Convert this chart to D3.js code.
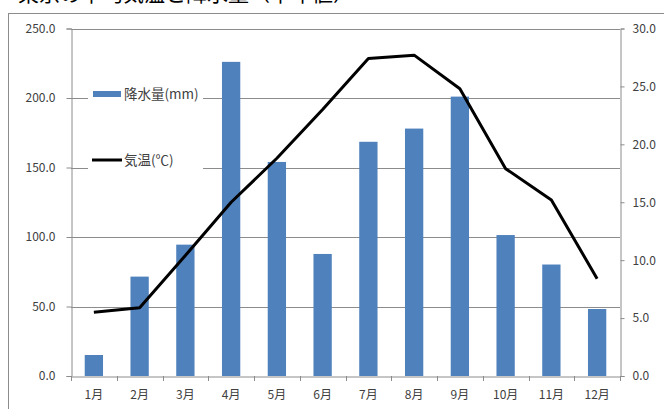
<!DOCTYPE html>
<html>
<head>
<meta charset="utf-8">
<script src="https://d3js.org/d3.v7.min.js"></script>
<style>
  body { margin: 0; background: #fff; }
  svg text { font-family: "Noto Sans CJK JP", "Noto Sans", sans-serif; }
</style>
</head>
<body>
<svg id="chart" width="664" height="409"></svg>
<script>
// month labels, precipitation (mm) and mean temperature (℃)
var months = ["1月", "2月", "3月", "4月", "5月", "6月", "7月", "8月", "9月", "10月", "11月", "12月"];
var rain = [15.1, 71.5, 94.5, 226.0, 154.0, 87.8, 168.5, 178.0, 201.0, 101.4, 80.2, 48.2];
var temp = [5.5, 5.9, 10.4, 15.0, 18.8, 23.0, 27.4, 27.7, 24.8, 17.9, 15.2, 8.4];
var rainTicks = [0, 50, 100, 150, 200, 250];
var tempTicks = [0, 5, 10, 15, 20, 25, 30];
var legendNames = ["降水量(mm)", "気温(℃)"];

var svg = d3.select("#chart");
// plot area edges (note: "top" is taken by window.top)
var pLeft = 71, pRight = 620, pTop = 28.5, pBottom = 376;
var gray = "#8c8c8c";

// cut-off title at the very top
svg.append("text")
  .attr("x", 18).attr("y", 1)
  .attr("font-size", 21)
  .attr("fill", "#000")
  .text("東京の平均気温と降水量（平年値）");

// outer chart frame
svg.append("rect")
  .attr("x", 8.5).attr("y", 13.5)
  .attr("width", 700).attr("height", 450)
  .attr("fill", "none")
  .attr("stroke", gray);

var xb = d3.scaleBand().domain(months).range([pLeft, pRight]);
var yL = d3.scaleLinear().domain([0, 250]).range([pBottom, pTop]);
var yR = d3.scaleLinear().domain([0, 30]).range([pBottom, pTop]);

// gridlines
svg.append("g").selectAll("line")
  .data(rainTicks.slice(1))
  .join("line")
  .attr("x1", pLeft).attr("x2", pRight)
  .attr("y1", function(d) { return Math.round(yL(d)) + 0.5; })
  .attr("y2", function(d) { return Math.round(yL(d)) + 0.5; })
  .attr("stroke", gray);

// bars
var barW = xb.bandwidth() / 2.5;
svg.append("g").selectAll("rect")
  .data(rain)
  .join("rect")
  .attr("x", function(d, i) { return xb(months[i]) + (xb.bandwidth() - barW) / 2; })
  .attr("y", function(d) { return yL(d); })
  .attr("width", barW)
  .attr("height", function(d) { return pBottom - yL(d); })
  .attr("fill", "#4f81bd");

// left axis
var axL = svg.append("g")
  .attr("transform", "translate(" + (pLeft + 0.5) + ",0)")
  .call(d3.axisLeft(yL).tickValues(rainTicks).tickFormat(d3.format(".1f")).tickSizeOuter(0).tickSize(5).tickPadding(11));
// right axis
var axR = svg.append("g")
  .attr("transform", "translate(" + (pRight + 0.5) + ",0)")
  .call(d3.axisRight(yR).tickValues(tempTicks).tickFormat(d3.format(".1f")).tickSizeOuter(0).tickSize(4).tickPadding(8));
// bottom axis
var axB = svg.append("g")
  .attr("transform", "translate(0," + (pBottom + 0.5) + ")")
  .call(d3.axisBottom(xb).tickSize(0).tickPadding(14));
svg.append("g").selectAll("line")
  .data(d3.range(months.length + 1))
  .join("line")
  .attr("x1", function(i) { return Math.round(pLeft + i * xb.bandwidth()) + 0.5; })
  .attr("x2", function(i) { return Math.round(pLeft + i * xb.bandwidth()) + 0.5; })
  .attr("y1", pBottom).attr("y2", pBottom + 5)
  .attr("stroke", gray);

[axL, axR, axB].forEach(function(ax) {
  ax.selectAll("path, line").attr("stroke", gray);
  ax.selectAll("text").attr("font-size", 12).attr("fill", "#404040")
    .style("font-family", "\"Noto Sans CJK JP\", sans-serif");
});

// legend
var lg = svg.append("g");
lg.append("rect")
  .attr("x", 88).attr("y", 80).attr("width", 115).attr("height", 96)
  .attr("fill", "#fff");
lg.append("rect")
  .attr("x", 93).attr("y", 91).attr("width", 28).attr("height", 6)
  .attr("fill", "#4f81bd");
lg.append("line")
  .attr("x1", 92).attr("x2", 122).attr("y1", 160).attr("y2", 160)
  .attr("stroke", "#000").attr("stroke-width", 3);
lg.selectAll("text")
  .data(legendNames)
  .join("text")
  .attr("x", 124)
  .attr("y", function(d, i) { return i == 0 ? 94 : 160; })
  .attr("dy", "0.35em")
  .attr("font-size", 13.5)
  .attr("fill", "#404040")
  .text(function(d) { return d; });

// temperature line (drawn over the bars and legend box)
var line = d3.line()
  .x(function(d, i) { return xb(months[i]) + xb.bandwidth() / 2; })
  .y(function(d) { return yR(d); });
svg.append("path")
  .datum(temp)
  .attr("d", line)
  .attr("fill", "none")
  .attr("stroke", "#000")
  .attr("stroke-width", 3)
  .attr("stroke-linejoin", "round");
</script>
</body>
</html>
